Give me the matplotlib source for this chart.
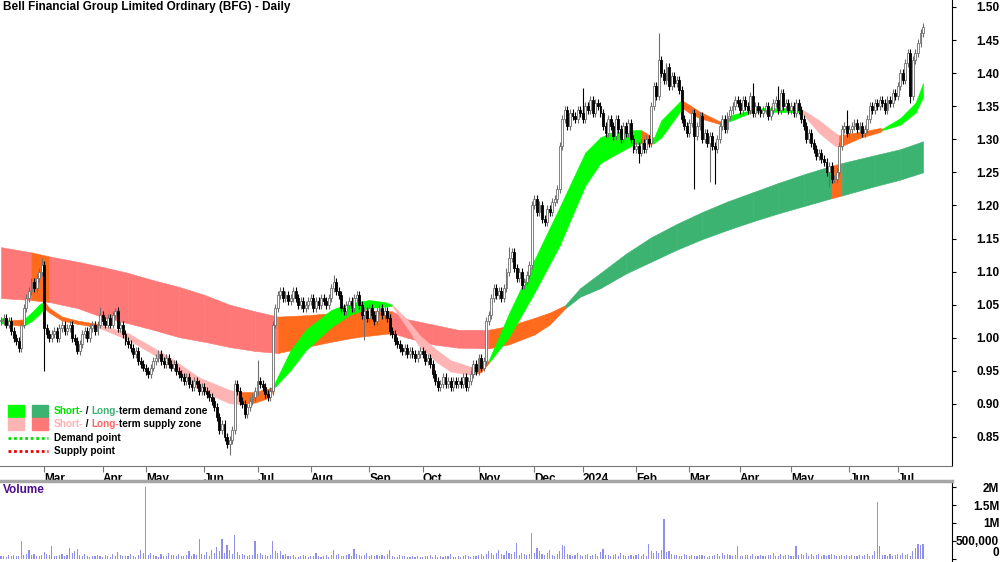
import numpy as np
import pandas as pd
import matplotlib
matplotlib.use('Agg')
import matplotlib.pyplot as plt
from matplotlib import font_manager
from matplotlib.patches import Rectangle

# pick a narrow Arial-like face if there is one
names = {f.name for f in font_manager.fontManager.ttflist}
base_font = 'Liberation Sans Narrow' if 'Liberation Sans Narrow' in names else 'Liberation Sans'
plt.rcParams['font.family'] = [base_font, 'DejaVu Sans']
plt.rcParams['font.weight'] = 'bold'

# trading calendar (ASX holidays)
holidays = ['2023-04-07', '2023-04-10', '2023-04-25', '2023-06-12', '2023-12-25', '2023-12-26',
            '2024-01-01', '2024-01-26', '2024-03-29', '2024-04-01', '2024-04-25', '2024-06-10']
dates = pd.bdate_range('2023-02-06', '2024-07-15', freq='C', holidays=holidays)

# daily closing prices
closes = [
    1.025, 1.03, 1.02, 1.025, 1.01, 1.0, 0.995, 0.985, 1.02, 1.045,
    1.06, 1.07, 1.085, 1.075, 1.09, 1.1, 1.11, 1.015, 1.005, 1.0,
    1.005, 1.01, 1.0, 1.015, 1.02, 1.01, 1.015, 1.02, 1.0, 0.995,
    0.98, 0.99, 1.005, 1.01, 1.0, 1.015, 1.02, 1.01, 1.02, 1.035,
    1.025, 1.02, 1.03, 1.02, 1.035, 1.04, 1.015, 1.02, 1.005, 0.995,
    0.99, 0.985, 0.975, 0.98, 0.965, 0.96, 0.955, 0.95, 0.945, 0.955,
    0.965, 0.97, 0.975, 0.965, 0.96, 0.97, 0.96, 0.955, 0.96, 0.95,
    0.945, 0.94, 0.935, 0.94, 0.93, 0.925, 0.935, 0.93, 0.92, 0.925,
    0.92, 0.915, 0.91, 0.905, 0.895, 0.88, 0.86, 0.87, 0.85, 0.84,
    0.845, 0.86, 0.93, 0.92, 0.905, 0.9, 0.885, 0.895, 0.905, 0.91,
    0.92, 0.935, 0.93, 0.925, 0.915, 0.91, 0.92, 1.02, 1.045, 1.065,
    1.07, 1.06, 1.065, 1.055, 1.06, 1.07, 1.06, 1.05, 1.055, 1.045,
    1.05, 1.055, 1.06, 1.045, 1.055, 1.05, 1.06, 1.055, 1.05, 1.06,
    1.075, 1.085, 1.07, 1.065, 1.045, 1.04, 1.05, 1.055, 1.045, 1.06,
    1.065, 1.05, 1.035, 1.04, 1.03, 1.045, 1.035, 1.025, 1.04, 1.045,
    1.035, 1.04, 1.03, 1.01, 1.005, 0.995, 0.99, 0.985, 0.98, 0.985,
    0.975, 0.98, 0.975, 0.97, 0.975, 0.98, 0.975, 0.965, 0.97, 0.96,
    0.945, 0.935, 0.925, 0.93, 0.94, 0.93, 0.935, 0.925, 0.935, 0.93,
    0.935, 0.93, 0.94, 0.925, 0.935, 0.945, 0.96, 0.95, 0.97, 0.955,
    0.965, 1.025, 1.035, 1.06, 1.075, 1.065, 1.07, 1.06, 1.075, 1.10,
    1.12, 1.13, 1.105, 1.09, 1.1, 1.08, 1.085, 1.095, 1.11, 1.2,
    1.21, 1.19, 1.2, 1.18, 1.175, 1.195, 1.19, 1.205, 1.21, 1.225,
    1.29, 1.33, 1.345, 1.32, 1.34, 1.335, 1.33, 1.345, 1.34, 1.33,
    1.35, 1.345, 1.36, 1.34, 1.355, 1.35, 1.34, 1.32, 1.31, 1.33,
    1.32, 1.305, 1.33, 1.315, 1.3, 1.32, 1.31, 1.325, 1.30, 1.285,
    1.29, 1.28, 1.295, 1.285, 1.30, 1.295, 1.35, 1.38, 1.365, 1.42,
    1.40, 1.39, 1.41, 1.38, 1.395, 1.385, 1.39, 1.375, 1.33, 1.32,
    1.31, 1.325, 1.34, 1.305, 1.32, 1.335, 1.30, 1.31, 1.295, 1.305,
    1.29, 1.285, 1.30, 1.32, 1.33, 1.315, 1.335, 1.345, 1.35, 1.36,
    1.355, 1.345, 1.36, 1.35, 1.345, 1.365, 1.34, 1.35, 1.345, 1.34,
    1.345, 1.35, 1.335, 1.345, 1.355, 1.36, 1.345, 1.37, 1.35, 1.355,
    1.345, 1.35, 1.34, 1.355, 1.345, 1.33, 1.32, 1.30, 1.31, 1.295,
    1.285, 1.275, 1.28, 1.27, 1.265, 1.25, 1.26, 1.24, 1.24, 1.25,
    1.29, 1.315, 1.32, 1.31, 1.315, 1.32, 1.325, 1.315, 1.32, 1.31,
    1.315, 1.33, 1.35, 1.345, 1.355, 1.35, 1.36, 1.355, 1.345, 1.36,
    1.355, 1.37, 1.365, 1.38, 1.40, 1.39, 1.415, 1.43, 1.365, 1.42,
    1.43, 1.445, 1.46, 1.47,
]

# notable wick extremes (day index -> price)
wick_high = {16: 1.12, 39: 1.046, 45: 1.045, 101: 0.966, 110: 1.077, 131: 1.095,
             200: 1.137, 229: 1.378, 259: 1.46, 296: 1.385, 306: 1.38, 333: 1.345, 363: 1.476}
wick_low = {17: 0.95, 30: 0.975, 90: 0.822, 143: 0.997, 251: 1.264, 273: 1.225,
            279: 1.235, 281: 1.232, 326: 1.228, 358: 1.355}

# daily volume, thousands of shares
volume_k = [
    60, 80, 50, 90, 70, 110, 60, 80, 480, 90,
    120, 250, 100, 140, 80, 60, 110, 180, 120, 90,
    340, 70, 60, 90, 120, 80, 100, 300, 160, 200,
    260, 90, 70, 120, 60, 50, 80, 70, 110, 60,
    50, 90, 70, 40, 130, 60, 180, 90, 60, 80,
    70, 120, 60, 50, 90, 250, 150, 2000, 110, 160,
    90, 60, 40, 130, 80, 70, 160, 100, 90, 60,
    120, 80, 60, 90, 200, 70, 140, 90, 550, 130,
    100, 180, 60, 240, 150, 310, 200, 540, 160, 390,
    250, 120, 660, 180, 90, 140, 100, 70, 110, 90,
    480, 130, 150, 90, 110, 70, 90, 480, 200, 150,
    220, 110, 120, 80, 70, 100, 50, 40, 60, 90,
    80, 40, 60, 70, 150, 80, 50, 60, 90, 40,
    110, 250, 90, 120, 60, 80, 100, 130, 60, 270,
    120, 100, 70, 90, 160, 80, 110, 60, 90, 70,
    100, 80, 120, 250, 60, 50, 40, 90, 60, 70,
    40, 50, 60, 30, 70, 50, 40, 60, 80, 100,
    50, 90, 30, 60, 40, 80, 70, 120, 40, 30,
    60, 50, 70, 90, 60, 40, 60, 80, 100, 120,
    80, 140, 220, 150, 90, 160, 250, 130, 110, 200,
    160, 120, 180, 430, 100, 160, 130, 90, 140, 710,
    150, 300, 200, 120, 90, 150, 230, 110, 80, 130,
    200, 380, 350, 120, 100, 80, 90, 160, 110, 70,
    90, 140, 60, 100, 130, 80, 170, 280, 90, 110,
    60, 90, 120, 70, 150, 110, 60, 80, 100, 70,
    90, 130, 80, 120, 60, 400, 200, 150, 220, 160,
    250, 1100, 180, 200, 140, 90, 110, 70, 60, 130,
    90, 70, 110, 80, 60, 90, 100, 80, 50, 70,
    60, 90, 120, 80, 150, 110, 130, 90, 70, 100,
    340, 80, 60, 100, 90, 70, 120, 60, 80, 90,
    70, 60, 90, 110, 150, 80, 60, 120, 70, 90,
    100, 60, 80, 340, 110, 130, 90, 150, 80, 120,
    60, 100, 140, 80, 110, 70, 90, 120, 100, 60,
    80, 100, 70, 90, 60, 110, 80, 70, 100, 60,
    90, 120, 70, 100, 200, 1580, 340, 110, 90, 70,
    120, 80, 100, 140, 90, 160, 110, 130, 80, 200,
    300, 400, 380, 410,
]

# long-term zone: day index, upper edge, lower edge, colour of next segment
long_idx = [0, 12, 19, 30, 40, 50, 60, 70, 80, 90, 100, 109, 120, 130, 140, 154, 160, 170, 180,
            192, 200, 210, 216, 222, 228, 236, 246, 256, 266, 276, 286, 296, 306, 316, 327, 331,
            344, 354, 363]
long_top = [1.137, 1.129, 1.123, 1.115, 1.107, 1.098, 1.087, 1.077, 1.065, 1.050, 1.040, 1.032,
            1.034, 1.037, 1.042, 1.040, 1.028, 1.020, 1.012, 1.012, 1.018, 1.030, 1.038, 1.049,
            1.075, 1.098, 1.127, 1.152, 1.172, 1.190, 1.206, 1.220, 1.234, 1.247, 1.260, 1.264,
            1.276, 1.285, 1.297]
long_bot = [1.060, 1.057, 1.054, 1.045, 1.031, 1.022, 1.012, 1.001, 0.994, 0.986, 0.980, 0.977,
            0.986, 0.994, 1.001, 1.007, 1.000, 0.990, 0.985, 0.984, 0.990, 1.005, 1.020, 1.044,
            1.062, 1.075, 1.097, 1.115, 1.133, 1.149, 1.163, 1.176, 1.188, 1.199, 1.211, 1.215,
            1.229, 1.239, 1.250]
long_col = 'RORRRRRRRRROOOORRRROOOODDDDDDDDDDDODDDD'

# short-term zone
short_idx = [0, 3, 9, 12, 15, 17, 19, 24, 30, 38, 50, 60, 67, 78, 90, 94, 100, 106, 107, 114,
             120, 130, 137, 145, 151, 154, 160, 165, 172, 177, 185, 189, 192, 200, 210, 220, 230,
             236, 240, 250, 252, 257, 260, 267, 268, 271, 275, 283, 285, 288, 295, 300, 310, 315,
             322, 328, 330, 338, 346, 347, 354, 360, 363]
short_top = [1.030, 1.026, 1.028, 1.038, 1.050, 1.055, 1.045, 1.032, 1.026, 1.021, 1.007, 0.985,
             0.969, 0.940, 0.921, 0.918, 0.918, 0.924, 0.926, 0.981, 1.012, 1.042, 1.052, 1.057,
             1.054, 1.050, 1.027, 1.003, 0.980, 0.966, 0.956, 0.958, 0.966, 1.037, 1.118, 1.198,
             1.280, 1.303, 1.310, 1.314, 1.314, 1.302, 1.329, 1.356, 1.359, 1.352, 1.342, 1.327,
             1.328, 1.337, 1.344, 1.347, 1.347, 1.346, 1.329, 1.311, 1.306, 1.311, 1.317, 1.316,
             1.332, 1.355, 1.385]
short_bot = [1.022, 1.020, 1.018, 1.025, 1.035, 1.045, 1.038, 1.026, 1.021, 1.016, 0.997, 0.975,
             0.956, 0.921, 0.901, 0.900, 0.902, 0.910, 0.922, 0.951, 0.981, 1.016, 1.034, 1.045,
             1.047, 1.048, 1.015, 0.985, 0.962, 0.949, 0.944, 0.948, 0.962, 1.001, 1.068, 1.140,
             1.230, 1.264, 1.273, 1.294, 1.291, 1.294, 1.303, 1.340, 1.348, 1.340, 1.332, 1.323,
             1.325, 1.329, 1.340, 1.342, 1.341, 1.341, 1.310, 1.291, 1.288, 1.302, 1.311, 1.314,
             1.322, 1.340, 1.364]
short_col = 'GOGGGOOOOPPPPPPOOOGGGGGGGPPPPPOOGGGGGGGGOGGGOOOOGGGGGPPPOOOGGGG'

zone_colors = {'G': '#00ff00', 'D': '#3cb371', 'P': '#ffb4b4', 'R': '#ff7878', 'O': '#ff6a1c'}

title = 'Bell Financial Group Limited Ordinary (BFG) - Daily'

W, H = 1000, 562
fig = plt.figure(figsize=(W / 100, H / 100), dpi=100)
ax = fig.add_axes([0, 96 / H, 952 / W, 466 / H])
axv = fig.add_axes([0, 0, 952 / W, 81 / H])

n = len(closes)
x = np.arange(n)
c = np.array(closes)
o = np.r_[c[0], c[:-1]]
up = c >= o
body_lo = np.minimum(o, c)
body_hi = np.maximum(o, c)
hi = body_hi + 0.006
lo = body_lo - 0.006
for k, v in wick_high.items():
    hi[k] = v
for k, v in wick_low.items():
    lo[k] = v

# zones
def draw_zone(idx, top, bot, cols, z):
    for k in range(len(idx) - 1):
        col = zone_colors[cols[k]]
        ax.fill_between(idx[k:k + 2], top[k:k + 2], bot[k:k + 2], color=col, ec=col, lw=0.4, zorder=z)

draw_zone(long_idx, long_top, long_bot, long_col, 1)
draw_zone(short_idx, short_top, short_bot, short_col, 2)

# candles
ax.vlines(x[up], lo[up], hi[up], color='#6e6e6e', lw=0.8, zorder=3)
ax.vlines(x[~up], lo[~up], hi[~up], color='black', lw=0.8, zorder=3)
h = np.maximum(body_hi - body_lo, 0.002)
ax.bar(x[up], h[up], bottom=body_lo[up], width=0.75, color='white', edgecolor='#6e6e6e', lw=0.6, zorder=4)
ax.bar(x[~up], h[~up], bottom=body_lo[~up], width=0.75, color='black', edgecolor='black', lw=0.6, zorder=4)

ax.set_xlim(-0.394, 374.4)
ax.set_ylim(1.50 - 459 / 661.5, 1.50 + 7 / 661.5)

# month ticks
months = dates.to_period('M')
starts = np.where(months[1:] != months[:-1])[0] + 1
labels = [dates[s].strftime('%Y') if dates[s].month == 1 else dates[s].strftime('%b') for s in starts]
ax.set_xticks(starts)
ax.set_xticklabels(labels, ha='left', fontsize=8.5)
ax.tick_params(axis='x', length=4, color='#777777', pad=1)

yt = np.arange(0.85, 1.501, 0.05)
ax.yaxis.tick_right()
ax.set_yticks(yt)
ax.set_yticklabels(['%.2f' % v for v in yt], fontsize=8.5)
ax.tick_params(axis='y', length=3, pad=31)
for lab in ax.get_yticklabels():
    lab.set_horizontalalignment('right')

for s in ['left', 'top']:
    ax.spines[s].set_visible(False)
ax.spines['bottom'].set_color('#777777')
ax.spines['bottom'].set_linewidth(0.8)
ax.spines['right'].set_linewidth(0.8)

# volume
axv.bar(x, np.array(volume_k) * 1000, width=0.45, color='#9090ea', zorder=2)
axv.set_xlim(ax.get_xlim())
axv.set_ylim(-3.5 / 35.6 * 1e6, 77.5 / 35.6 * 1e6)
axv.yaxis.tick_right()
axv.set_yticks([0, 0.5e6, 1e6, 1.5e6, 2e6])
axv.set_yticklabels(['0', '500,000', '1M', '1.5M', '2M'], fontsize=8.5)
axv.tick_params(axis='y', length=3, pad=31)
for lab in axv.get_yticklabels():
    lab.set_horizontalalignment('right')
axv.get_yticklabels()[0].set_verticalalignment('bottom')
axv.set_xticks([])
axv.spines['left'].set_visible(False)
axv.spines['bottom'].set_visible(False)
axv.spines['top'].set_color('#a6a6a6')
axv.spines['top'].set_linewidth(2.5)
axv.spines['right'].set_linewidth(0.8)
axv.text(3 / 952, (562 - 490) / 81, 'Volume', transform=axv.transAxes, color='#4b0f8a',
         fontsize=8.5, va='center', ha='left')

def fx(px):
    return px / W

def fy(py):
    return 1 - py / H

fig.text(fx(3), fy(7), title, fontsize=8.5, va='center', ha='left')

# legend
renderer = fig.canvas.get_renderer()
leg_fs = 7.2

def pieces(x0, py, parts):
    xp = x0
    for txt, col in parts:
        t = fig.text(fx(xp), fy(py), txt, color=col, fontsize=leg_fs, va='center', ha='left')
        bb = t.get_window_extent(renderer)
        xp = bb.x1

rows = [
    (411, zone_colors['G'], zone_colors['D'],
     [('Short-', '#00e000'), (' / ', 'black'), ('Long-', '#3cb371'), ('term demand zone', 'black')]),
    (424, zone_colors['P'], zone_colors['R'],
     [('Short-', '#ffb0b0'), (' / ', 'black'), ('Long-', '#ff6464'), ('term supply zone', 'black')]),
]
for py, c1, c2, parts in rows:
    fig.patches.append(Rectangle((fx(8), fy(py + 6)), 16 / W, 12 / H, color=c1, transform=fig.transFigure))
    fig.patches.append(Rectangle((fx(32), fy(py + 6)), 16 / W, 12 / H, color=c2, transform=fig.transFigure))
    pieces(54, py, parts)

for py, col, txt in [(438, '#00dd00', 'Demand point'), (451, '#ee0000', 'Supply point')]:
    fig.lines.append(plt.Line2D([fx(8), fx(48)], [fy(py), fy(py)], color=col, lw=2,
                                ls=(0, (1, 1)), transform=fig.transFigure))
    fig.text(fx(54), fy(py), txt, fontsize=leg_fs, va='center', ha='left')

fig.savefig('out.png', dpi=100)
